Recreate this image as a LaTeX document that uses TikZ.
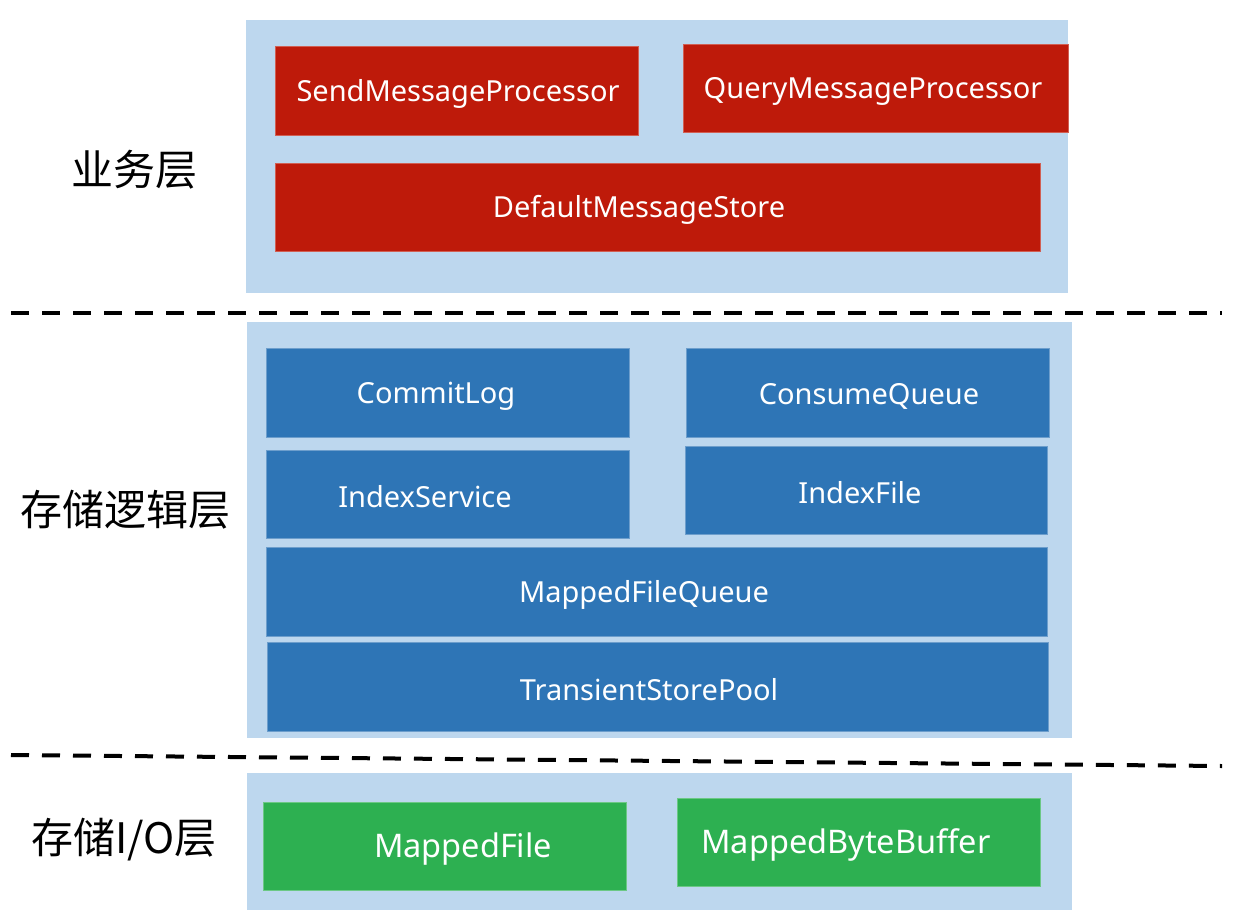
\documentclass[tikz,border=0pt]{standalone}
\usepackage{fontspec}
\setmainfont{Noto Sans}
\newfontfamily\cjk{Noto Sans CJK SC}
\definecolor{panelc}{HTML}{BDD7EE}
\definecolor{redc}{HTML}{BE1A0A}
\definecolor{bluec}{HTML}{2E75B6}
\definecolor{greenc}{HTML}{2DB051}
\begin{document}
\begin{tikzpicture}[x=1pt,y=-1pt,
  panel/.style={fill=panelc,draw=none},
  box/.style={draw=white!30!#1,line width=0.8pt,fill=#1,inner sep=0pt,anchor=north west},
  btext/.style={text=white,font=\fontsize{29}{32}\selectfont,inner sep=0pt,yshift=-3pt},
  gtext/.style={text=white,font=\fontsize{32.5}{36}\selectfont,inner sep=0pt,yshift=-3pt},
  layer/.style={font=\cjk\fontsize{42}{46}\selectfont,inner sep=0pt},
  sep/.style={line width=4pt,dash pattern=on 18pt off 13pt}]
\useasboundingbox (0,0) rectangle (1257,918);
% panels
\fill[panel] (246,20) rectangle (1068,293);
\fill[panel] (247,322) rectangle (1072,738);
\fill[panel] (247,773) rectangle (1072,910);
% separators
\coordinate (s1a) at (11,313); \coordinate (s1b) at (1222,313);
\coordinate (s2a) at (11,755); \coordinate (s2b) at (1222,766);
\draw[sep] (s1a) -- (s1b);
\draw[sep] (s2a) -- (s2b);
% layer labels
\node[layer] (l1) at (134,170) {业务层};
\node[layer] (l2) at (125,510) {存储逻辑层};
\node[layer] (l3) at (124,840) {存储I/O层};
% business layer
\node[box=redc,minimum width=363pt,minimum height=89pt] (smp) at (275,46) {};
\node[btext] (tsmp) at (458,91) {SendMessageProcessor};
\node[box=redc,minimum width=385pt,minimum height=88pt] (qmp) at (683,44) {};
\node[btext] (tqmp) at (873,88) {QueryMessageProcessor};
\node[box=redc,minimum width=765pt,minimum height=88pt] (dms) at (275,163) {};
\node[btext] (tdms) at (639,207) {DefaultMessageStore};
% storage logic layer
\node[box=bluec,minimum width=363pt,minimum height=89pt] (cl) at (266,348) {};
\node[btext] (tcl) at (436,393) {CommitLog};
\node[box=bluec,minimum width=363pt,minimum height=89pt] (cq) at (686,348) {};
\node[btext] (tcq) at (869,393) {ConsumeQueue};
\node[box=bluec,minimum width=363pt,minimum height=88pt] (is) at (266,450) {};
\node[btext] (tis) at (425,494) {IndexService};
\node[box=bluec,minimum width=362pt,minimum height=88pt] (ixf) at (685,446) {};
\node[btext] (tixf) at (860,490) {IndexFile};
\node[box=bluec,minimum width=781pt,minimum height=89pt] (mfq) at (266,547) {};
\node[btext] (tmfq) at (644,592) {MappedFileQueue};
\node[box=bluec,minimum width=781pt,minimum height=89pt] (tsp) at (267,642) {};
\node[btext] (ttsp) at (649,687) {TransientStorePool};
% I/O layer
\node[box=greenc,minimum width=363pt,minimum height=88pt] (mf) at (263,802) {};
\node[gtext] (tmf) at (463,846) {MappedFile};
\node[box=greenc,minimum width=363pt,minimum height=88pt] (mbb) at (677,798) {};
\node[gtext] (tmbb) at (846,842) {MappedByteBuffer};
\end{tikzpicture}
\end{document}
